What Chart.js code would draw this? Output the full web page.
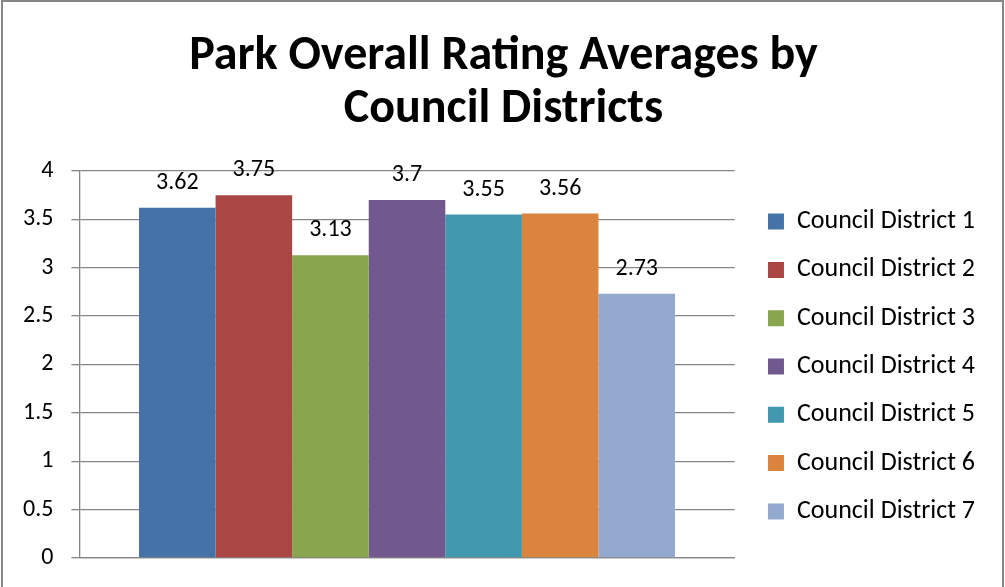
<!DOCTYPE html>
<html>
<head>
<meta charset="utf-8">
<script src="https://cdn.jsdelivr.net/npm/chart.js@4.4.1/dist/chart.umd.min.js"></script>
<style>
  html, body { margin: 0; padding: 0; background: #fff; }
  #wrap {
    position: absolute; left: 1px; top: 0; width: 1003px; height: 587px;
    box-sizing: border-box; border: 2px solid #868686; border-bottom: none;
    background: #fff;
  }
  canvas { display: block; }
</style>
</head>
<body>
<div id="wrap"><canvas id="c" width="999" height="585"></canvas></div>
<script>
const FONT = 'Carlito, Lato, "Open Sans", sans-serif';
const titleLines = ['Park Overall Rating Averages by', 'Council Districts'];
const categories = [''];
const seriesNames = ['Council District 1','Council District 2','Council District 3','Council District 4','Council District 5','Council District 6','Council District 7'];
const seriesValues = [3.62, 3.75, 3.13, 3.7, 3.55, 3.56, 2.73];
const seriesColors = ['#4572A7','#AA4643','#89A54E','#71588F','#4198AF','#DB843D','#93A9CF'];
const yTicks = { min: 0, max: 4, step: 0.5 };

const LEGEND_SHIFT = 11;
const LEGEND_EXTRA_WIDTH = 28;

const valueLabels = {
  id: 'valueLabels',
  beforeUpdate(chart) {
    const lg = chart.legend;
    if (lg && !lg._shiftPatched) {
      const fit = lg.fit.bind(lg);
      const draw = lg.draw.bind(lg);
      lg.fit = function () { fit(); if (!this.isHorizontal()) this.width += LEGEND_EXTRA_WIDTH; };
      lg.draw = function () {
        const ctx = this.ctx; ctx.save(); ctx.translate(LEGEND_SHIFT, 2); draw(); ctx.restore();
      };
      lg._shiftPatched = true;
    }
  },
  afterDatasetsDraw(chart) {
    const ctx = chart.ctx;
    ctx.save();
    ctx.font = '24px ' + FONT;
    ctx.fillStyle = '#000';
    ctx.textAlign = 'center';
    ctx.textBaseline = 'middle';
    chart.data.datasets.forEach((ds, i) => {
      const meta = chart.getDatasetMeta(i);
      meta.data.forEach((bar, j) => {
        ctx.fillText(String(ds.data[j]), bar.x, bar.y - 25);
      });
    });
    ctx.restore();
  }
};

const datasets = seriesNames.map((name, i) => ({
  label: name,
  data: [seriesValues[i]],
  backgroundColor: seriesColors[i],
  borderWidth: 0
}));

new Chart(document.getElementById('c'), {
  type: 'bar',
  data: { labels: categories, datasets },
  plugins: [valueLabels],
  options: {
    responsive: false,
    animation: false,
    categoryPercentage: 0.818,
    barPercentage: 1.0,
    layout: { padding: { left: 2, right: 0, top: 0, bottom: 22 } },
    plugins: {
      tooltip: { enabled: false },
      title: {
        display: true,
        text: titleLines,
        color: '#000',
        font: { family: FONT, size: 48, weight: 'bold', lineHeight: 1.104 },
        padding: { top: 28.5, bottom: 34.5 }
      },
      legend: {
        position: 'right',
        align: 'center',
        fullSize: false,
        labels: {
          color: '#000',
          font: { family: FONT, size: 26 },
          boxWidth: 16,
          boxHeight: 16,
          padding: 22.3
        }
      }
    },
    scales: {
      x: {
        ticks: { display: false },
        grid: { display: true, drawOnChartArea: false, drawTicks: false },
        border: { display: true, color: '#868686', width: 1.3 }
      },
      y: {
        min: yTicks.min,
        max: yTicks.max,
        afterFit: s => { s.paddingBottom = 29; },
        ticks: {
          stepSize: yTicks.step, color: '#000', font: { family: FONT, size: 24 }, padding: 18,
          callback: v => String(v)
        },
        grid: { color: '#868686', lineWidth: 1.3, tickLength: 8 },
        border: { display: true, color: '#868686', width: 1.3 }
      }
    }
  }
});
</script>
</body>
</html>
